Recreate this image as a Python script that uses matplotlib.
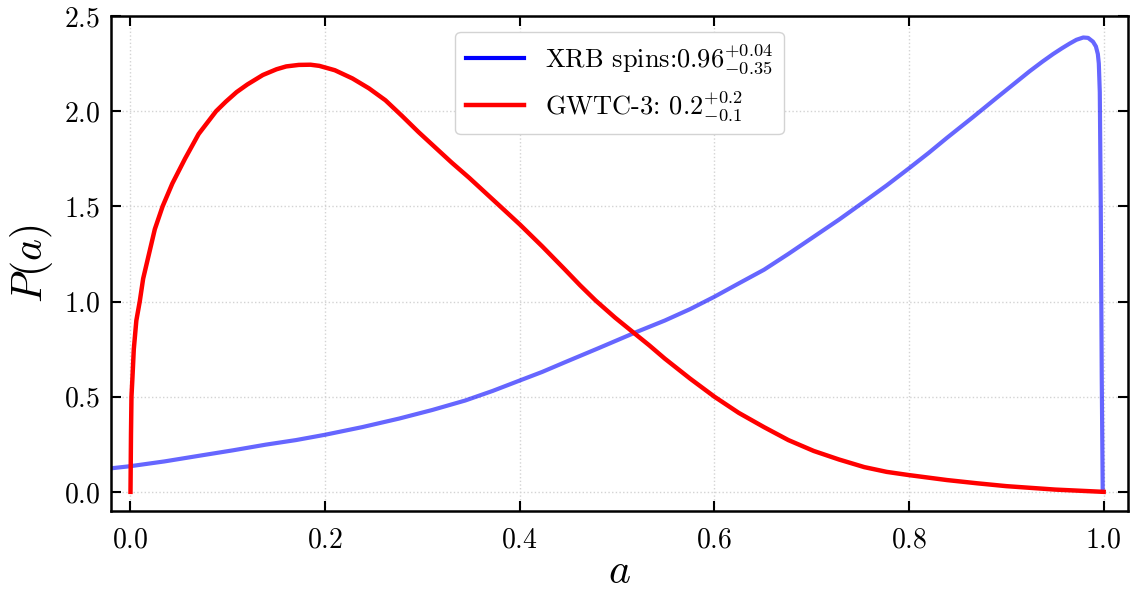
import matplotlib
matplotlib.use("Agg")
import matplotlib.pyplot as plt

plt.rcParams['font.family'] = 'serif'
plt.rcParams['font.serif'] = ['cmr10', 'DejaVu Serif']
plt.rcParams['mathtext.fontset'] = 'cm'
plt.rcParams['axes.formatter.use_mathtext'] = True

# values
xrb_a = [-0.03, 0.0, 0.035, 0.071, 0.105, 0.139, 0.17, 0.2, 0.238, 0.276, 0.31,
         0.344, 0.372, 0.4, 0.423, 0.446, 0.481, 0.52, 0.549, 0.575, 0.6, 0.625,
         0.651, 0.676, 0.702, 0.728, 0.754, 0.777, 0.8, 0.82, 0.839, 0.866, 0.89,
         0.907, 0.924, 0.937, 0.948, 0.957, 0.965, 0.972, 0.979, 0.984, 0.989,
         0.992, 0.994, 0.995, 0.996, 0.997, 0.998, 0.999]
xrb_p = [0.118, 0.135, 0.16, 0.19, 0.218, 0.248, 0.272, 0.30, 0.34, 0.385, 0.43,
         0.48, 0.53, 0.585, 0.63, 0.68, 0.755, 0.84, 0.9, 0.96, 1.025, 1.095,
         1.167, 1.25, 1.34, 1.43, 1.525, 1.61, 1.70, 1.78, 1.86, 1.97, 2.07,
         2.14, 2.21, 2.26, 2.30, 2.33, 2.355, 2.375, 2.387, 2.385, 2.365,
         2.34, 2.30, 2.25, 2.1, 1.5, 0.6, 0.0]

gw_a = [0.0, 0.0005, 0.001, 0.002, 0.0034, 0.006, 0.0095, 0.013, 0.019, 0.025,
        0.033, 0.043, 0.056, 0.07, 0.088, 0.098, 0.109, 0.12, 0.136, 0.15, 0.16,
        0.173, 0.185, 0.194, 0.21, 0.228, 0.245, 0.262, 0.279, 0.296, 0.313, 0.330,
        0.348, 0.365, 0.382, 0.4, 0.423, 0.446, 0.462, 0.478, 0.498, 0.518, 0.533,
        0.549, 0.575, 0.6, 0.625, 0.651, 0.676, 0.702, 0.728, 0.754, 0.777, 0.8,
        0.839, 0.87, 0.9, 0.95, 1.0]
gw_p = [0.0, 0.3, 0.5, 0.6, 0.75, 0.9, 1.0, 1.12, 1.25, 1.38,
        1.5, 1.62, 1.75, 1.88, 2.0, 2.05, 2.1, 2.14, 2.19, 2.22, 2.235,
        2.243, 2.244, 2.238, 2.215, 2.172, 2.12, 2.057, 1.975, 1.89, 1.81, 1.73,
        1.65, 1.57, 1.49, 1.405, 1.29, 1.17, 1.085, 1.005, 0.915, 0.832, 0.77,
        0.70, 0.595, 0.50, 0.415, 0.34, 0.272, 0.215, 0.17, 0.13, 0.105, 0.088,
        0.062, 0.045, 0.03, 0.012, 0.0]

xrb_label = r'XRB spins:$0.96^{+0.04}_{-0.35}$'
gw_label = r'GWTC-3: $0.2^{+0.2}_{-0.1}$'

fig = plt.figure(figsize=(11.33, 5.92), dpi=100)
ax = fig.add_axes([0.098, 0.137, 0.8976, 0.836])

ax.plot(xrb_a, xrb_p, color='blue', lw=3, alpha=0.6, label=xrb_label)
ax.plot(gw_a, gw_p, color='red', lw=3.2, label=gw_label)

ax.set_xlim(-0.02, 1.025)
ax.set_ylim(-0.1, 2.5)
ax.set_xticks([0.0, 0.2, 0.4, 0.6, 0.8, 1.0])
ax.set_yticks([0.0, 0.5, 1.0, 1.5, 2.0, 2.5])
ax.set_xlabel(r'$a$', fontsize=30, labelpad=0)
ax.set_ylabel(r'$P(a)$', fontsize=30, labelpad=6)

ax.tick_params(direction='in', top=True, right=True, length=7, width=1.5,
               labelsize=20, pad=8)
ax.tick_params(axis='x', pad=12)
for s in ax.spines.values():
    s.set_linewidth(1.8)
ax.grid(True, ls=':', color='lightgray', lw=1)

leg = ax.legend(loc='upper center', fontsize=19, framealpha=1, edgecolor='lightgray',
                borderaxespad=0.6, handlelength=2.2)
leg.get_lines()[0].set_alpha(1)

fig.savefig('out.png', dpi=100)
